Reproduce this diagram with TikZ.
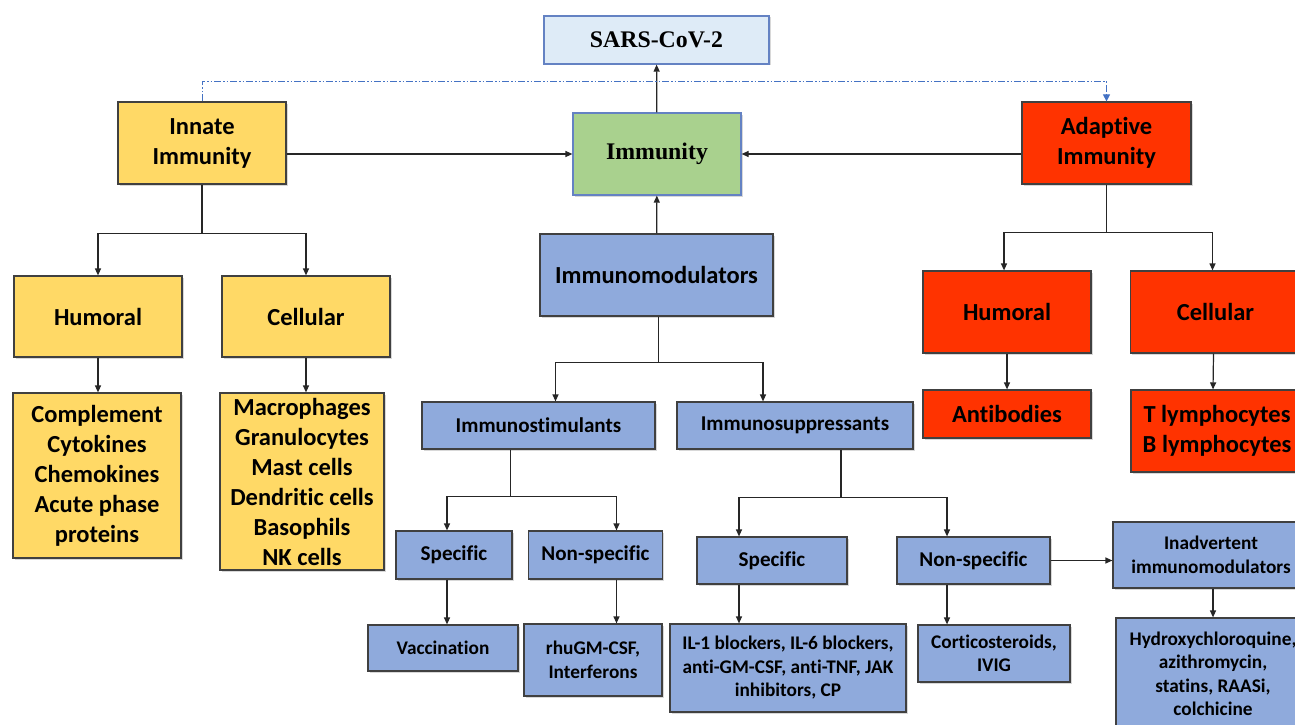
\documentclass[tikz,border=0pt]{standalone}
\usepackage{fontspec}
\setmainfont{Carlito}[RawFeature={-liga}]
\newfontfamily\timesfont{Liberation Serif}
\usetikzlibrary{positioning, arrows.meta, shadows}

\definecolor{innateyellow}{RGB}{255,217,102}
\definecolor{adaptred}{RGB}{255,51,0}
\definecolor{modblue}{RGB}{143,170,220}
\definecolor{immgreen}{RGB}{169,209,142}
\definecolor{viruslight}{RGB}{222,235,247}
\definecolor{edgeblue}{RGB}{100,130,195}
\definecolor{linkblue}{RGB}{68,114,196}

\begin{document}
\begin{tikzpicture}[
x=1pt, y=-1pt,
every node/.style={
    rectangle,
    align=center,
    inner sep=0pt,
    },
unit/.style 2 args={
    draw=black!75,
    line width=1.2pt,
    minimum width=#1,
    minimum height=#2,
    drop shadow={shadow xshift=1.5pt, shadow yshift=-1.5pt, opacity=.3},
    font=\bfseries\fontsize{24.5}{30}\selectfont,
    },
innate/.style={fill=innateyellow},
adaptive/.style={fill=adaptred},
modulator/.style={fill=modblue},
mid/.style={font=\bfseries\fontsize{21.1}{26}\selectfont},
small/.style={font=\bfseries\fontsize{19.3}{23.5}\selectfont},
serifbox/.style={draw=edgeblue, font=\timesfont\bfseries\fontsize{23.8}{28}\selectfont},
arr/.style={draw=black!85, line width=1.2pt, -{Triangle[length=7pt,width=6pt]}},
link/.style={draw=black!85, line width=1.2pt},
dashlink/.style={draw=linkblue, line width=1pt,
    dash pattern=on 7pt off 2pt on 1.5pt off 2pt on 1.5pt off 2pt,
    -{Triangle[length=7pt,width=7pt]}},
]
\path[use as bounding box, fill=white] (0,0) rectangle (1295,725);

% top row
\node[unit={225}{48}, serifbox, fill=viruslight] (virus) at (656.5,40) {SARS-CoV-2};
\node[unit={168}{82}, serifbox, fill=immgreen] (immunity) at (657,154) {Immunity};
\node[unit={168}{82}, innate] (innate) at (202,143) {Innate\\Immunity};
\node[unit={169}{82}, adaptive] (adaptive) at (1106.5,143) {Adaptive\\Immunity};
\node[unit={233}{82}, modulator] (modul) at (656.5,275) {Immunomodulators};

% innate branch
\node[unit={168}{81}, innate] (ihum) at (98,316.5) {Humoral};
\node[unit={168}{81}, innate] (icel) at (306,316.5) {Cellular};
\node[unit={168}{165}, innate] (ihumlist) at (97,475.5)
     {Complement\\Cytokines\\Chemokines\\Acute phase\\proteins};
\node[unit={164}{177}, innate] (icellist) at (302,481.5)
     {Macrophages\\Granulocytes\\Mast cells\\Dendritic cells\\Basophils\\NK cells};

% adaptive branch
\node[unit={168}{82}, adaptive] (ahum) at (1007,312) {Humoral};
\node[unit={170}{82}, adaptive] (acel) at (1215.5,312) {Cellular};
\node[unit={168}{48}, adaptive] (ahumlist) at (1007,414) {Antibodies};
\node[unit={172}{82}, adaptive] (acellist) at (1217,431) {T lymphocytes\\B lymphocytes};

% immunomodulators
\node[unit={233}{47}, modulator, mid] (stim) at (538.5,425.5) {Immunostimulants};
\node[unit={236}{47}, modulator, mid] (supp) at (795,425.5) {Immunosuppressants};
\node[unit={116}{48}, modulator, mid] (sspec) at (454,555) {Specific};
\node[unit={134}{48}, modulator, mid] (snon) at (595.5,555) {Non-specific};
\node[unit={150}{46}, modulator, small] (vacc) at (443,648) {Vaccination};
\node[unit={138}{72}, modulator, small] (rhu) at (593,660) {rhuGM-CSF,\\Interferons};
\node[unit={150}{47}, modulator, mid] (uspec) at (772,560.5) {Specific};
\node[unit={153}{47}, modulator, mid] (unon) at (973.5,560.5) {Non-specific};
\node[unit={236}{88}, modulator, small] (ilbox) at (788,668)
     {IL-1 blockers, IL-6 blockers,\\anti-GM-CSF, anti-TNF, JAK\\inhibitors, CP};
\node[unit={152}{57}, modulator, small] (cort) at (994,653.5) {Corticosteroids,\\IVIG};
\node[unit={196}{66}, modulator, small] (inadv) at (1211,555) {Inadvertent\\immunomodulators};
\node[unit={194}{112}, modulator, small] (hydro) at (1213,674)
     {Hydroxychloroquine,\\azithromycin,\\statins, RAASi,\\colchicine};

% forks
\coordinate (innfork) at ([yshift=-49pt]innate.south);
\coordinate (adfork) at ([yshift=-48pt]adaptive.south);
\coordinate (modfork) at ([xshift=2pt,yshift=-46pt]modul.south);
\coordinate (stimfork) at ([xshift=-28pt,yshift=-47pt]stim.south);
\coordinate (suppfork) at ([xshift=46pt,yshift=-48pt]supp.south);
\coordinate (sspecx) at ([xshift=-7pt]sspec.south);
\coordinate (snonx) at ([xshift=21pt]snon.south);
\coordinate (uspecx) at ([xshift=-33pt]uspec.south);
\coordinate (unonx) at ([xshift=-26.5pt]unon.south);

% connectors
\draw[arr] (immunity) -- (virus);
\draw[arr] (modul) -- (immunity);
\draw[arr] (innate.east |- immunity.west) -- (immunity.west);
\draw[arr] (adaptive.west |- immunity.east) -- (immunity.east);
\draw[dashlink] (innate.north) -- ++(0,-20) -| (adaptive.north);

\draw[link] (innate) -- (innfork);
\draw[arr] (innfork) -| (ihum);
\draw[arr] (innfork) -| (icel);
\draw[arr] (ihum) -- (ihumlist.north -| ihum);
\draw[arr] (icel) -- (icellist.north -| icel);

\draw[link] (adaptive) -- (adfork);
\draw[arr] (adfork) -| ([xshift=-3pt]ahum.north);
\draw[arr] (adfork) -| ([xshift=-3pt]acel.north);
\draw[arr] (ahum) -- (ahumlist);
\draw[arr] ([xshift=-2pt]acel.south) -- ([xshift=-4pt]acellist.north);

\draw[link] (modul.south -| modfork) -- (modfork);
\draw[arr] (modfork) -| ([xshift=17pt]stim.north);
\draw[arr] (modfork) -| ([xshift=-32pt]supp.north);

\draw[link] (stim.south -| stimfork) -- (stimfork);
\draw[arr] (stimfork) -| (sspec.north -| sspecx);
\draw[arr] (stimfork) -| (snon.north -| snonx);
\draw[arr] (sspecx) -- (vacc.north -| sspecx);
\draw[arr] (snonx) -- (rhu.north -| snonx);

\draw[link] (supp.south -| suppfork) -- (suppfork);
\draw[arr] (suppfork) -| (uspec.north -| uspecx);
\draw[arr] (suppfork) -| (unon.north -| unonx);
\draw[arr] (uspecx) -- (ilbox.north -| uspecx);
\draw[arr] (unonx) -- (cort.north -| unonx);
\draw[arr] (unon.east) -- (inadv.west |- unon.east);
\draw[arr] ([xshift=2pt]inadv.south) -- (hydro.north);
\end{tikzpicture}
\end{document}
